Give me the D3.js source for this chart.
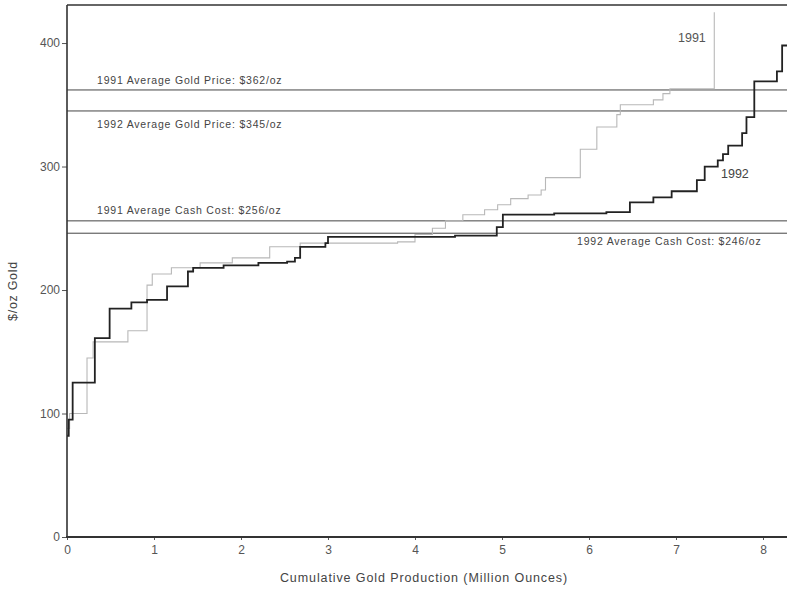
<!DOCTYPE html>
<html><head><meta charset="utf-8">
<script src="https://cdn.jsdelivr.net/npm/d3@7"></script>
<style>body{margin:0;background:#fff}svg{display:block}text{font-family:"Liberation Sans",Arial,sans-serif}</style>
</head><body>
<svg id="c" width="787" height="589"></svg>
<script>
// 1991 cash-cost curve (step-after): cumulative production (Moz) and $/oz
const x1991 = [0, 0.03, 0.23, 0.30, 0.70, 0.92, 0.98, 1.2, 1.53, 1.9, 2.33, 2.68, 3.8, 4.0, 4.2, 4.35, 4.55, 4.8, 4.95, 5.1, 5.3, 5.45, 5.5, 5.9, 6.09, 6.32, 6.36, 6.74, 6.85, 6.93, 7.44];
const y1991 = [88, 100, 145, 158, 167, 204, 213, 218, 222, 226, 235, 238, 239, 245, 250, 256, 261, 265, 269, 274, 277, 281, 291, 314, 332, 342, 350, 354, 359, 363, 425];
// 1992 cash-cost curve
const x1992 = [0, 0.02, 0.065, 0.32, 0.49, 0.74, 0.92, 1.15, 1.39, 1.45, 1.8, 2.2, 2.53, 2.62, 2.68, 2.97, 3.0, 4.46, 4.94, 5.01, 5.6, 6.2, 6.47, 6.74, 6.95, 7.24, 7.33, 7.48, 7.54, 7.6, 7.76, 7.81, 7.9, 8.16, 8.22, 8.3];
const y1992 = [82, 95, 125, 161, 185, 190, 192, 203, 215, 218, 220, 222, 223, 226, 235, 238, 243, 244, 251, 261, 262, 263, 271, 275, 280, 289, 300, 305, 310, 317, 327, 340, 369, 377, 398, 398];
const refValues = [362, 345, 256, 246];
const refLabels = ["1991 Average Gold Price: $362/oz", "1992 Average Gold Price: $345/oz", "1991 Average Cash Cost: $256/oz", "1992 Average Cash Cost: $246/oz"];
const xTicks = [0, 1, 2, 3, 4, 5, 6, 7, 8];
const yTicks = [0, 100, 200, 300, 400];

const svg = d3.select("#c");
const x = d3.scaleLinear().domain([0, 8.2759]).range([67, 787]);
const y = d3.scaleLinear().domain([0, 430.8]).range([537, 5]);

// frame top
svg.append("line").attr("x1", 67).attr("x2", 787).attr("y1", 5).attr("y2", 5)
  .attr("stroke", "#333").attr("stroke-width", 1.6);

// reference lines
svg.selectAll(".ref").data(refValues).join("line")
  .attr("x1", 67).attr("x2", 787)
  .attr("y1", d => y(d)).attr("y2", d => y(d))
  .attr("stroke", "#444").attr("stroke-width", 1);

const labelPos = [[97, -6], [97, 17], [97, -7], [577, 12]];
svg.selectAll(".rl").data(refLabels).join("text")
  .attr("x", (d, i) => labelPos[i][0])
  .attr("y", (d, i) => y(refValues[i]) + labelPos[i][1])
  .attr("font-size", 10.5).attr("letter-spacing", 0.8).attr("fill", "#444").text(d => d);

const line = d3.line().x(d => x(d[0])).y(d => y(d[1])).curve(d3.curveStepAfter);
const d91 = x1991.map((v, i) => [v, y1991[i]]);
const d92 = x1992.map((v, i) => [v, y1992[i]]);

svg.append("path").attr("d", line(d91)).attr("fill", "none")
  .attr("stroke", "#b8b8b8").attr("stroke-width", 1.1);
svg.append("path").attr("d", line(d92)).attr("fill", "none")
  .attr("stroke", "#222").attr("stroke-width", 1.8);

// axes
const yAxis = d3.axisLeft(y).tickValues(yTicks).tickSize(5).tickPadding(2);
const gy = svg.append("g").attr("transform", "translate(67,0)").call(yAxis);
gy.select(".domain").remove();
gy.selectAll(".tick line").attr("stroke", "#555");
gy.selectAll(".tick text").attr("font-size", 12).attr("fill", "#555").attr("font-family", "Liberation Sans, Arial, sans-serif");
svg.append("line").attr("x1", 67).attr("x2", 67).attr("y1", 5).attr("y2", 538)
  .attr("stroke", "#333").attr("stroke-width", 1.6);

const xAxis = d3.axisBottom(x).tickValues(xTicks).tickSize(4).tickPadding(5).tickFormat(d3.format("d"));
const gx = svg.append("g").attr("transform", "translate(0,536)").call(xAxis);
gx.select(".domain").remove();
gx.selectAll(".tick line").attr("stroke", "#555");
gx.selectAll(".tick text").attr("font-size", 12).attr("fill", "#555").attr("font-family", "Liberation Sans, Arial, sans-serif");
svg.append("line").attr("x1", 66).attr("x2", 787).attr("y1", 537).attr("y2", 537)
  .attr("stroke", "#333").attr("stroke-width", 2);

// axis titles
svg.append("text").attr("x", 424).attr("y", 582).attr("text-anchor", "middle")
  .attr("font-size", 12.5).attr("letter-spacing", 0.9).attr("fill", "#444").text("Cumulative Gold Production (Million Ounces)");
svg.append("text").attr("transform", "translate(17,291) rotate(-90)").attr("text-anchor", "middle")
  .attr("font-size", 12.5).attr("letter-spacing", 0.7).attr("fill", "#444").text("$/oz Gold");

// series labels
svg.append("text").attr("x", 678).attr("y", 42).attr("font-size", 12.5).attr("fill", "#555").text("1991");
svg.append("text").attr("x", 721).attr("y", 178).attr("font-size", 12.5).attr("fill", "#444").text("1992");
</script>
</body></html>
